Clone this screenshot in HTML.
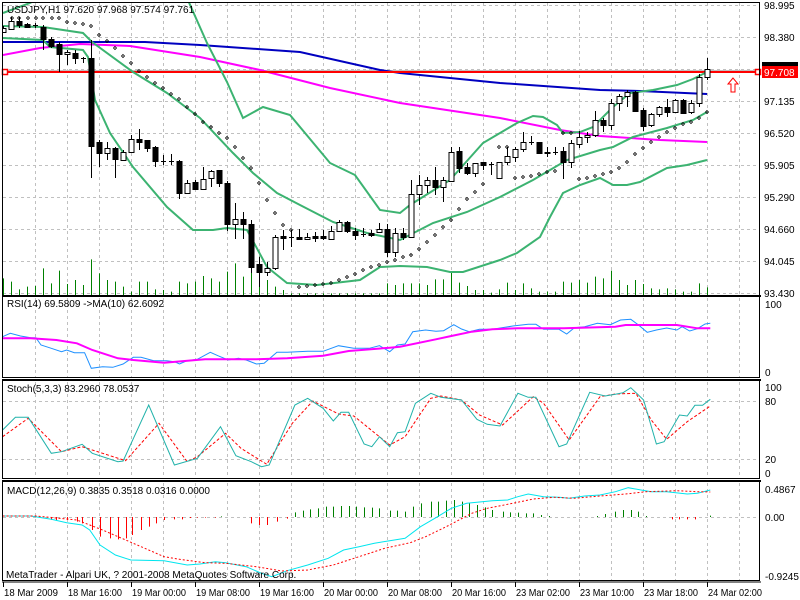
<!DOCTYPE html>
<html><head><meta charset="utf-8"><style>
html,body{margin:0;padding:0;background:#fff;width:800px;height:600px;overflow:hidden}
svg{display:block;font-family:"Liberation Sans",sans-serif;font-size:10px}
</style></head><body>
<svg id="s" width="800" height="600" viewBox="0 0 800 600" xmlns="http://www.w3.org/2000/svg">
<rect width="800" height="600" fill="#fff"/>
<defs><clipPath id="cm"><rect x="3" y="3" width="757" height="292"/></clipPath></defs>
<g id="grid" stroke="#c0c0c0" stroke-dasharray="3,3" stroke-width="1"></g>
<g id="main" clip-path="url(#cm)"></g>
<g id="low"></g>
<g id="txt" fill="#000"></g>
</svg>
<script>
const NS="http://www.w3.org/2000/svg";
function el(p,t,a,txt){const e=document.createElementNS(NS,t);for(const k in a)e.setAttribute(k,a[k]);if(txt!==undefined)e.textContent=txt;document.getElementById(p).appendChild(e);return e;}
function pts(a){return a.map(p=>p[0]+","+p[1]).join(" ");}
function z3(a){return a.map(p=>[(p[0]/1.95).toFixed(1),(p[1]/3+290).toFixed(1)]);}
function line(p,a,col,w,dash){const o={points:pts(a),fill:"none",stroke:col,"stroke-width":w||1};if(dash)o["stroke-dasharray"]=dash;el(p,"polyline",o);}
// grid
const panels=[[3,295],[298,377],[382,478],[483,580]];
for(const [t,b] of panels){for(let x=35;x<760;x+=32)el("grid","line",{x1:x+.5,y1:t,x2:x+.5,y2:b});}
for(let y=5;y<=293;y+=32)el("grid","line",{x1:3,y1:y+.5,x2:760,y2:y+.5});
[401,459].forEach(y=>el("grid","line",{x1:3,y1:y+.5,x2:760,y2:y+.5}));
el("grid","line",{x1:3,y1:517.5,x2:760,y2:517.5});
// volume
const vt=[835,845,868,860,858,805,850,812,852,840,855,778,820,840,845,860,875,845,845,868,870,875,845,850,845,828,835,845,815,790,830,818,770,840,860,870,880,880,880,880,880,880,880,880,880,880,880,880,850,855,850,850,850,855,838,838,815,848,858,870,870,878,868,848,870,850,865,875,875,875,845,848,840,848,830,835,812,840,855,840,852,865,868,865,868,875,875,850,862];
vt.forEach((t,k)=>{const x=3+8*k+.5;el("main","line",{x1:x,y1:295,x2:x,y2:295-(885-t)/3,stroke:"#008000"});});
// red/gray lines
el("main","line",{x1:3,y1:70.5,x2:760,y2:70.5,stroke:"#c0c0c0"});
// MAs
line("main",[[3,42],[145,42],[200,45],[300,52],[380,70],[400,73],[500,83],[600,90],[640,91],[707,94]],"#0000c0",2);
line("main",[[3,55],[40,48],[80,44],[130,46],[200,57],[260,70],[330,88],[400,103],[500,118],[560,130],[600,136],[660,140],[707,142]],"#ff00ff",2);
el("main","line",{x1:3,y1:72,x2:760,y2:72,stroke:"#ff0000","stroke-width":2});
// Bollinger
const G="#3cb371";
line("main",[[3,13],[30,3],[45,-5],[187,-2],[207,43],[227,82],[243,118],[263,107],[290,115],[330,163],[355,175],[380,210],[400,213],[410,205],[450,180],[483,143],[517,123],[533,116],[543,117],[557,125],[563,133],[580,132],[593,127],[613,107],[630,93],[653,90],[677,85],[693,79],[707,72]],G,2);
line("main",[[3,26],[43,27],[83,33],[92,42],[133,72],[167,93],[200,118],[233,153],[253,173],[277,193],[300,205],[333,222],[367,233],[400,240],[433,223],[467,212],[500,197],[533,180],[567,160],[600,150],[613,147],[633,137],[667,128],[693,120],[707,112]],G,2);
line("main",[[3,38],[43,40],[50,47],[83,50],[88,57],[95,100],[110,133],[133,167],[167,207],[193,230],[213,230],[227,228],[247,230],[267,267],[287,283],[317,285],[360,280],[380,267],[400,266],[427,267],[450,272],[463,272],[500,260],[517,253],[540,237],[550,217],[563,193],[580,185],[600,178],[613,185],[627,185],[640,182],[667,168],[687,165],[707,160]],G,2);
// SAR
const sar=[[12,18],[19,18],[28,18],[36,18],[43,18],[52,18],[59,18],[67,22],[75,23],[83,24],[91,26],[99,35],[107,41],[115,48],[123,56],[131,63],[139,71],[147,77],[155,83],[163,88],[171,94],[179,99],[187,107],[195,114],[203,122],[211,127],[219,133],[227,138],[235,147],[243,158],[251,168],[259,183],[267,200],[275,213],[283,225],[291,230],[299,287],[307,286],[315,285],[323,284],[331,283],[339,280],[347,277],[355,274],[363,270],[371,267],[379,265],[387,262],[395,260],[403,257],[411,255],[419,249],[427,242],[435,235],[443,227],[451,220],[459,209],[467,199],[475,192],[483,184],[499,147],[507,147],[515,178],[523,177],[531,176],[539,174],[547,172],[555,171],[563,133],[571,133],[579,179],[587,178],[595,176],[603,174],[611,172],[619,168],[627,162],[635,154],[643,148],[651,142],[659,137],[667,132],[675,128],[683,124],[691,122],[699,118],[707,112]];
sar.forEach(p=>el("main","path",{d:`M${p[0]} ${p[1]-1.5}l1.5 1.5l-1.5 1.5l-1.5 -1.5z`,fill:"none",stroke:"#000","stroke-width":.8}));
// candles [o,c,h,l]
const C=[[32,28,26,33],[29,21,17,30],[21,25,17,28],[24,27,23,28],[25,25,23,28],[27,39,25,50],[39,46,37,48],[44,54,42,72],[54,52,50,65],[53,58,50,64],[58,58,57,63],[58,146,40,178],[142,153,140,167],[153,148,142,160],[148,159,147,178],[160,152,150,161],[152,139,135,153],[139,142,129,150],[140,148,140,152],[147,161,146,167],[161,161,155,165],[161,161,154,165],[161,193,160,199],[193,183,180,194],[182,189,180,190],[189,179,167,190],[178,171,170,187],[170,183,170,187],[183,224,181,231],[224,219,203,239],[219,224,212,239],[224,267,220,273],[264,272,257,287],[272,268,262,276],[268,237,235,270],[236,238,230,250],[237,237,230,247],[237,239,229,240],[239,237,233,240],[236,238,232,242],[236,238,230,240],[239,231,226,240],[231,222,220,232],[222,231,221,233],[231,235,228,240],[234,234,228,237],[233,235,230,237],[232,229,223,233],[229,252,224,257],[252,233,228,257],[233,237,228,240],[237,194,180,237],[194,185,175,205],[185,180,177,193],[180,187,167,195],[187,180,177,202],[181,152,147,182],[151,168,147,173],[167,173,163,175],[173,163,163,177],[162,165,162,170],[164,164,162,175],[178,162,162,178],[162,156,147,165],[157,149,147,162],[149,142,132,152],[142,142,136,145],[142,153,142,154],[152,153,147,157],[152,152,147,155],[151,162,147,179],[162,143,140,168],[144,137,131,148],[137,135,132,143],[135,120,111,137],[120,125,118,132],[125,103,99,130],[103,96,94,111],[96,92,90,107],[92,111,91,111],[110,126,108,131],[125,114,113,127],[114,107,106,117],[107,112,99,117],[112,100,99,113],[100,113,99,114],[112,103,100,114],[103,77,74,107],[77,69,58,80]];
C.forEach((c,k)=>{const x=3+8*k;const [o,cl,h,l]=c;el("main","line",{x1:x+.5,y1:h,x2:x+.5,y2:l,stroke:"#000"});
 const t=Math.min(o,cl),b=Math.max(o,cl);
 if(b-t<1){el("main","line",{x1:x-2,y1:t+.5,x2:x+3,y2:t+.5,stroke:"#000"});}
 else el("main","rect",{x:x-2,y:t+.5,width:5,height:b-t,fill:o<cl?"#000":"#fff",stroke:"#000"});});
// markers & arrow
el("txt","rect",{x:2.5,y:69.5,width:5,height:5,fill:"#fff",stroke:"#f00","stroke-width":1.5});
el("txt","rect",{x:755.5,y:69.5,width:5,height:5,fill:"#fff",stroke:"#f00","stroke-width":1.5});
el("txt","path",{d:"M733 78l-5 6h3v8h4v-8h3z",fill:"#fff",stroke:"#f00"});
// RSI
line("low",z3([[5,140],[20,130],[40,138],[60,143],[70,143],[80,165],[100,175],[120,185],[130,180],[145,188],[165,188],[178,235],[200,230],[220,232],[240,222],[260,202],[275,202],[300,212],[325,212],[340,215],[350,222],[365,212],[385,208],[410,187],[425,197],[445,210],[465,205],[480,210],[500,222],[515,220],[540,187],[560,187],[600,184],[630,184],[660,167],[690,175],[720,175],[740,167],[760,185],[775,165],[790,162],[805,125],[830,120],[850,124],[865,122],[885,104],[900,117],[915,125],[935,118],[960,118],[985,112],[1000,108],[1030,103],[1045,103],[1060,118],[1090,118],[1105,132],[1120,113],[1140,110],[1165,100],[1190,104],[1210,90],[1230,88],[1245,105],[1262,127],[1280,120],[1300,114],[1320,120],[1330,110],[1345,123],[1360,116],[1375,102],[1385,100]]),"#1e90ff",1);
line("low",z3([[5,145],[60,145],[110,150],[150,160],[180,180],[230,205],[260,210],[320,218],[360,213],[400,208],[500,208],[560,205],[630,197],[680,183],[760,173],[780,170],[850,148],[880,138],[920,125],[960,118],[1010,115],[1100,115],[1200,110],[1220,105],[1320,105],[1360,115],[1385,115]]),"#ff00ff",2);
// Stoch
line("low",z3([[5,440],[55,385],[120,485],[160,470],[200,490],[245,512],[310,400],[365,515],[385,500],[440,430],[470,475],[520,523],[570,400],[610,333],[660,372],[690,378],[760,465],[790,440],[840,325],[860,318],[900,330],[935,375],[980,405],[1040,320],[1060,340],[1110,450],[1170,320],[1200,312],[1240,310],[1270,390],[1300,448],[1340,395],[1385,348]]),"#ff0000",1,"3,2");
line("low",z3([[5,420],[30,382],[55,382],[100,490],[120,485],[160,463],[180,490],[230,515],[240,513],[290,345],[340,525],[385,505],[430,410],[460,497],[490,515],[510,530],[525,525],[575,345],[600,325],[630,355],[650,393],[665,367],[680,367],[710,462],[725,470],[740,440],[760,470],[775,428],[790,425],[810,340],[840,310],[860,322],[900,330],[930,388],[950,403],[975,408],[1010,310],[1030,322],[1045,322],[1090,470],[1105,462],[1150,307],[1180,318],[1200,313],[1215,308],[1230,293],[1255,330],[1280,462],[1295,455],[1325,375],[1340,378],[1355,346],[1370,346],[1385,328]]),"#20b2aa",1);
// MACD hist
const H=[[100,690],[110,690],[130,690],[150,695],[160,700],[180,720],[195,740],[215,745],[230,748],[245,745],[258,735],[275,720],[290,710],[305,700],[320,690],[340,688],[355,688],[370,684],[385,683],[400,683],[420,683],[430,679],[490,700],[505,705],[520,705],[540,695],[560,686],[575,667],[590,662],[605,658],[620,655],[635,650],[650,650],[665,648],[680,648],[695,650],[710,652],[725,653],[740,655],[760,662],[775,662],[790,665],[805,650],[820,640],[840,635],[855,635],[870,632],[885,630],[900,635],[915,640],[930,645],[945,652],[960,660],[980,665],[995,667],[1010,668],[1025,670],[1040,670],[1055,675],[1070,678],[1165,678],[1180,672],[1200,665],[1215,660],[1230,660],[1245,665],[1260,678],[1310,688],[1325,688],[1340,688],[1355,688],[1385,677]];
H.forEach(p=>{const x=Math.round(p[0]/1.95)+.5;const y=p[1]/3+290;el("low","line",{x1:x,y1:517,x2:x,y2:y,stroke:y>517?"#ff0000":"#008000"});});
line("low",z3([[5,678],[60,678],[100,688],[130,698],[160,705],[175,720],[195,765],[225,795],[255,810],[320,812],[365,825],[390,822],[420,815],[440,818],[480,830],[510,850],[530,860],[560,842],[600,825],[640,805],[670,780],[700,770],[730,760],[760,752],[790,745],[820,710],[850,683],[880,655],[910,640],[940,635],[960,632],[990,630],[1010,620],[1030,612],[1060,620],[1090,622],[1110,625],[1140,618],[1170,615],[1200,605],[1225,593],[1250,600],[1270,605],[1300,605],[1340,612],[1360,610],[1385,600]]),"#00e5ee",1);
line("low",z3([[5,678],[70,678],[150,690],[200,720],[260,760],[320,800],[350,808],[400,818],[440,820],[500,830],[550,843],[600,840],[650,825],[700,800],[750,775],[800,758],[830,740],[870,710],[920,670],[950,655],[1000,640],[1040,627],[1080,622],[1120,625],[1170,618],[1220,612],[1260,605],[1320,602],[1360,605],[1385,606]]),"#ff0000",1,"2,2");
// frames
[[3,3,757,293],[3,297,757,81],[3,381,757,98],[3,482,757,99]].forEach(r=>el("txt","rect",{x:r[0]-.5,y:r[1]-.5,width:r[2],height:r[3],fill:"none",stroke:"#000"}));
[296,380,481].forEach(y=>el("txt","line",{x1:2,y1:y,x2:761,y2:y,stroke:"#000","stroke-width":2}));
el("txt","line",{x1:2,y1:582,x2:761,y2:582,stroke:"#000"});
// text
const T=(x,y,s,o)=>el("txt","text",Object.assign({x:x,y:y},o||{}),s);
T(7,13,"USDJPY,H1  97.620 97.968 97.574 97.761",{"xml:space":"preserve"});
T(7,307,"RSI(14) 69.5809  ->MA(10) 62.6092",{"xml:space":"preserve"});
T(7,392,"Stoch(5,3,3) 83.2960 78.0537");
T(7,494,"MACD(12,26,9) 0.3835 0.3518 0.0316 0.0000");
T(6,578,"MetaTrader - Alpari UK, ? 2001-2008 MetaQuotes Software Corp.");
[["98.995",5],["98.380",37],["97.135",101],["96.520",133],["95.905",165],["95.290",197],["94.660",229],["94.045",261],["93.430",293]].forEach(a=>T(764,a[1]+4,a[0]));
el("txt","rect",{x:762,y:62,width:36,height:5,fill:"#000"});
el("txt","rect",{x:762,y:66,width:36,height:12,fill:"#f00"});
T(764,76,"97.708",{fill:"#fff"});
[["100",304],["0",372],["100",387],["80",401],["20",459],["0",473],["0.4867",489],["0.00",517],["-0.9245",576]].forEach(a=>T(765,a[1]+4,a[0]));
const L=["18 Mar 2009","18 Mar 16:00","19 Mar 00:00","19 Mar 08:00","19 Mar 16:00","20 Mar 00:00","20 Mar 08:00","20 Mar 16:00","23 Mar 02:00","23 Mar 10:00","23 Mar 18:00","24 Mar 02:00"];
L.forEach((s,i)=>{const x=3+64*i;el("txt","line",{x1:x+.5,y1:582,x2:x+.5,y2:587,stroke:"#000"});T(x+1,596,s,{textLength:54,lengthAdjust:"spacingAndGlyphs"});});
</script>
</body></html>
